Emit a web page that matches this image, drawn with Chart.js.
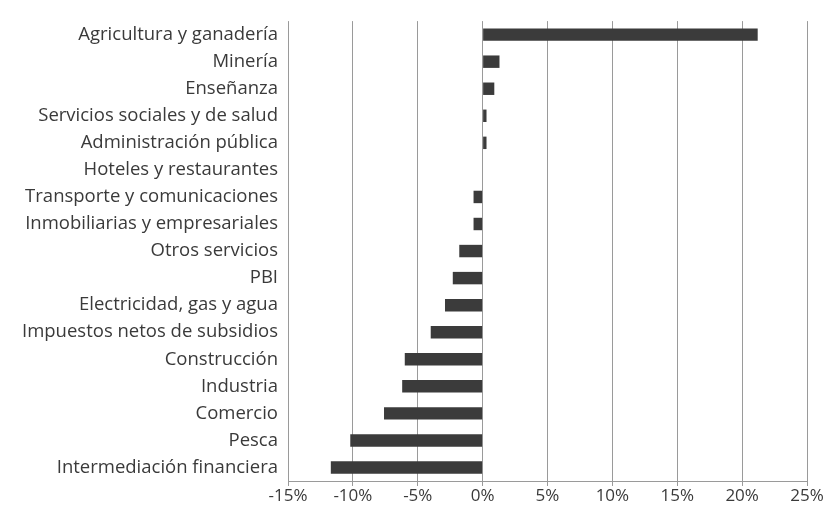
<!DOCTYPE html>
<html>
<head>
<meta charset="utf-8">
<script src="https://cdn.jsdelivr.net/npm/chart.js@4/dist/chart.umd.min.js"></script>
<style>
  html, body { margin: 0; padding: 0; background: #fff; }
  #wrap { width: 827px; height: 516px; }
</style>
</head>
<body>
<div id="wrap"><canvas id="barChart" width="827" height="516"></canvas></div>
<script>
// sectores, de arriba hacia abajo
var sectores = [
  'Agricultura y ganadería',
  'Minería',
  'Enseñanza',
  'Servicios sociales y de salud',
  'Administración pública',
  'Hoteles y restaurantes',
  'Transporte y comunicaciones',
  'Inmobiliarias y empresariales',
  'Otros servicios',
  'PBI',
  'Electricidad, gas y agua',
  'Impuestos netos de subsidios',
  'Construcción',
  'Industria',
  'Comercio',
  'Pesca',
  'Intermediación financiera'
];

// variación en %
var variacion = [21.2, 1.3, 0.9, 0.3, 0.3, 0.0, -0.7, -0.7, -1.8, -2.3, -2.9, -4.0, -6.0, -6.2, -7.6, -10.2, -11.7];

// escala del eje horizontal
var ejeMin = -15;
var ejeMax = 25;
var ejePaso = 5;

var colorBarra = '#3b3b3b';
var colorTexto = '#3a3a3a';
var colorGrilla = '#9a9a9a';
var familia = '"Open Sans", Lato, sans-serif';

var ctx = document.getElementById('barChart').getContext('2d');

new Chart(ctx, {
  type: 'bar',
  data: {
    labels: sectores,
    datasets: [{
      data: variacion,
      backgroundColor: colorBarra,
      borderWidth: 0,
      barPercentage: 0.46,
      categoryPercentage: 1.0
    }]
  },
  options: {
    indexAxis: 'y',
    responsive: false,
    animation: false,
    layout: { padding: { top: 10, right: 20, left: 0, bottom: 0 } },
    plugins: {
      legend: { display: false },
      tooltip: { enabled: false }
    },
    scales: {
      x: {
        min: ejeMin,
        max: ejeMax,
        ticks: {
          stepSize: ejePaso,
          color: colorTexto,
          font: { family: familia, size: 17 },
          padding: 0,
          callback: function (v) { return v + '%'; }
        },
        grid: {
          color: colorGrilla,
          lineWidth: 1,
          tickLength: 5,
          drawTicks: true
        },
        border: { display: true, color: colorGrilla },
        afterFit: function (scale) { scale.height = 35; }
      },
      y: {
        ticks: {
          color: colorTexto,
          font: { family: familia, size: 18.5 },
          padding: 10,
          autoSkip: false
        },
        grid: { display: false, drawTicks: false },
        border: { display: false },
        afterFit: function (scale) { scale.width = 288; }
      }
    }
  }
});
</script>
</body>
</html>
